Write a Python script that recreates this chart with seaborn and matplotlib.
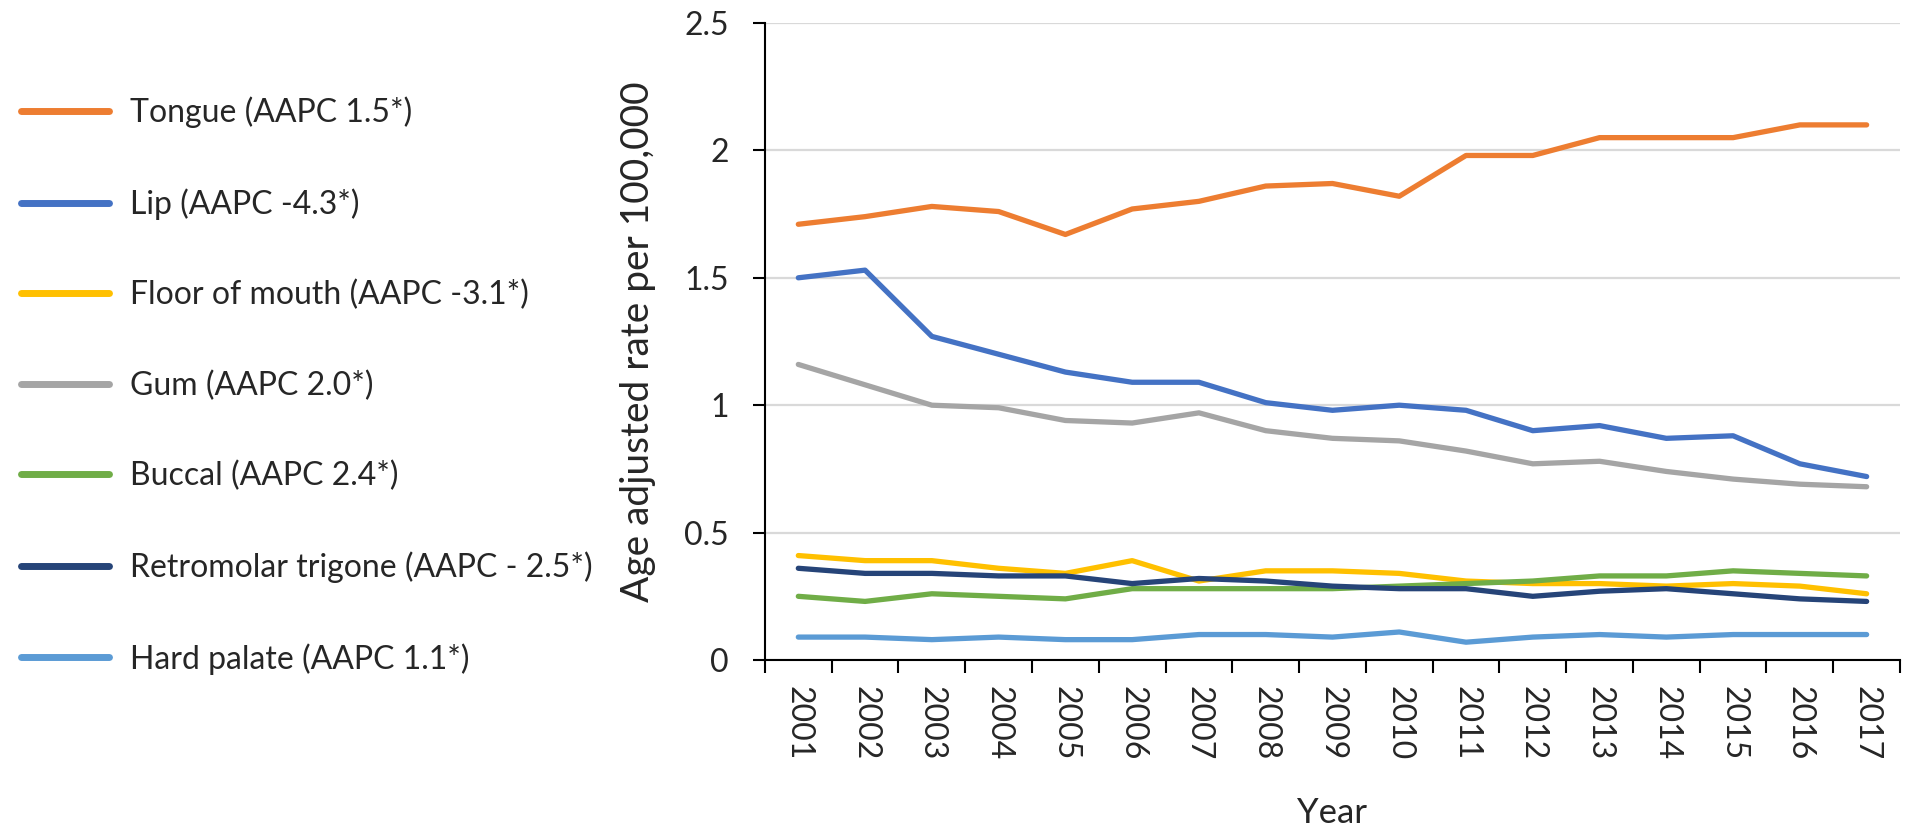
'''plot.py
Age adjusted incidence rate per 100,000 by oral cavity subsite, 2001-2017.
'''

import matplotlib
matplotlib.use('Agg')
import matplotlib.pyplot as plt
import seaborn as sns
import pandas as pd

# Data
years = list(range(2001, 2018))

tongue = [1.71, 1.74, 1.78, 1.76, 1.67, 1.77, 1.80, 1.86, 1.87, 1.82, 1.98, 1.98, 2.05, 2.05, 2.05, 2.10, 2.10]
lip = [1.50, 1.53, 1.27, 1.20, 1.13, 1.09, 1.09, 1.01, 0.98, 1.00, 0.98, 0.90, 0.92, 0.87, 0.88, 0.77, 0.72]
floor_mouth = [0.41, 0.39, 0.39, 0.36, 0.34, 0.39, 0.31, 0.35, 0.35, 0.34, 0.31, 0.30, 0.30, 0.29, 0.30, 0.29, 0.26]
gum = [1.16, 1.08, 1.00, 0.99, 0.94, 0.93, 0.97, 0.90, 0.87, 0.86, 0.82, 0.77, 0.78, 0.74, 0.71, 0.69, 0.68]
buccal = [0.25, 0.23, 0.26, 0.25, 0.24, 0.28, 0.28, 0.28, 0.28, 0.29, 0.30, 0.31, 0.33, 0.33, 0.35, 0.34, 0.33]
retromolar = [0.36, 0.34, 0.34, 0.33, 0.33, 0.30, 0.32, 0.31, 0.29, 0.28, 0.28, 0.25, 0.27, 0.28, 0.26, 0.24, 0.23]
hard_palate = [0.09, 0.09, 0.08, 0.09, 0.08, 0.08, 0.10, 0.10, 0.09, 0.11, 0.07, 0.09, 0.10, 0.09, 0.10, 0.10, 0.10]

labels = ['Tongue (AAPC 1.5*)', 'Lip (AAPC -4.3*)', 'Floor of mouth (AAPC -3.1*)',
          'Gum (AAPC 2.0*)', 'Buccal (AAPC 2.4*)', 'Retromolar trigone (AAPC - 2.5*)',
          'Hard palate (AAPC 1.1*)']
colors = ['#ED7D31', '#4472C4', '#FFC000', '#A5A5A5', '#70AD47', '#264478', '#5B9BD5']
y_ticks = [0, 0.5, 1, 1.5, 2, 2.5]
y_tick_labels = ['0', '0.5', '1', '1.5', '2', '2.5']

# Long format table for seaborn
series = [tongue, lip, floor_mouth, gum, buccal, retromolar, hard_palate]
dat = pd.concat([pd.DataFrame({'Year': years, 'Rate': s, 'Site': lab})
                 for s, lab in zip(series, labels)], ignore_index=True)

# Plot
sns.set_style('white')
plt.rcParams['font.family'] = ['Lato', 'DejaVu Sans']

fig = plt.figure(figsize=(19.2, 8.32), dpi=100)
ax = fig.add_axes([0.3984, 0.2067, 0.5912, 0.7657])

sns.lineplot(data=dat, x='Year', y='Rate', hue='Site', hue_order=labels,
             palette=dict(zip(labels, colors)), linewidth=3.8, ax=ax)

handles, leg_labels = ax.get_legend_handles_labels()
ax.get_legend().remove()
for h in handles:
    h.set_linewidth(5)
fig.legend(handles, leg_labels, loc='upper left', bbox_to_anchor=(0.011, 0.884),
           frameon=False, fontsize=23, handlelength=2.76, handletextpad=0.66,
           labelspacing=1.88, borderaxespad=0, borderpad=0)

# Axes styling (Excel-like)
ax.set_xlim(2000.5, 2017.5)
ax.set_ylim(0, 2.5)
ax.set_xticks(years)
ax.set_xticklabels([str(y) for y in years], rotation=-90, fontsize=23)
ax.set_xticks([y + 0.5 for y in range(2000, 2018)], minor=True)
ax.tick_params(axis='x', which='major', length=0, pad=19)
ax.tick_params(axis='x', which='minor', length=9, width=1.5, color='black', direction='out')
ax.set_yticks(y_ticks)
ax.set_yticklabels(y_tick_labels, fontsize=23)
ax.tick_params(axis='y', length=9, width=1.5, color='black', direction='out', pad=17, left=True)
ax.tick_params(axis='x', bottom=True, which='both')

ax.yaxis.grid(True, color='#D9D9D9', linewidth=1.6)
ax.set_axisbelow(True)
for side in ['top', 'right']:
    ax.spines[side].set_visible(False)
for side in ['left', 'bottom']:
    ax.spines[side].set_color('black')
    ax.spines[side].set_linewidth(1.5)

ax.set_xlabel('Year', fontsize=25, labelpad=26)
ax.set_ylabel('Age adjusted rate per 100,000', fontsize=28, labelpad=20,
              family=['Liberation Sans Narrow', 'Lato'])

plt.savefig('out.png', dpi=100)
